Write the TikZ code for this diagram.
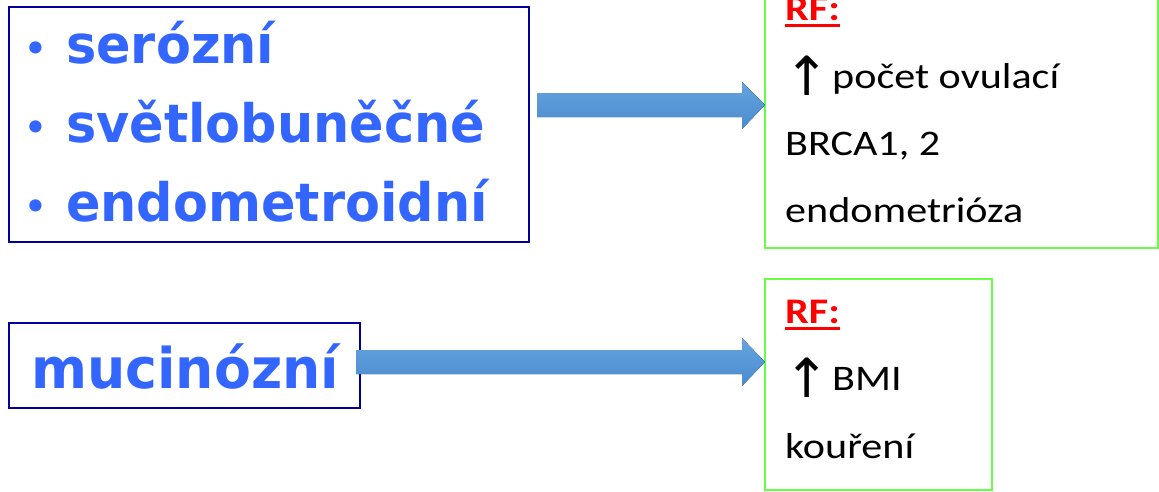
\documentclass[tikz,border=0pt]{standalone}
\usepackage{fontspec}
\setmainfont{Carlito}[FakeStretch=1.17]
\newfontfamily\verdb{DejaVuSans-Bold.ttf}[FakeStretch=0.96]
\newfontfamily\dvs{DejaVu Sans}
\usetikzlibrary{calc}
\definecolor{navybox}{HTML}{000099}
\definecolor{greenbox}{HTML}{66FF44}
\definecolor{typeblue}{HTML}{3366FF}
\definecolor{rfred}{HTML}{FF0000}
\definecolor{arrtop}{HTML}{66A3DE}
\definecolor{arrbot}{HTML}{4A8CD0}
\newcommand{\uparr}{\makebox[47pt][l]{\hspace{-1pt}\dvs\fontsize{54}{54}\selectfont\raisebox{-7pt}{↑}}}
\tikzset{
  typebox/.style={draw=navybox, line width=2pt, inner sep=0pt},
  rfbox/.style={draw=greenbox, line width=2pt, inner sep=0pt},
  typetext/.style={anchor=base west, inner sep=0pt, text=typeblue, font=\verdb\fontsize{53}{60}\selectfont},
  bullettext/.style={anchor=base, inner sep=0pt, text=typeblue, font=\dvs\fontsize{42}{50}\selectfont},
  rftext/.style={anchor=base west, inner sep=0pt, text=black, font=\fontsize{36}{40}\selectfont},
  rfhead/.style={anchor=base west, inner sep=0pt, text=rfred, font=\bfseries\fontsize{36}{40}\selectfont},
  rfline/.style={draw=rfred, line width=3pt},
  fatarrow/.style={top color=arrtop, bottom color=arrbot, draw=none},
}
\begin{document}
\begin{tikzpicture}[x=1pt,y=-1pt]
\useasboundingbox (0,0) rectangle (1159,491);
% boxes
\draw[typebox] (9,7) rectangle (529,242);
\coordinate (b1e) at (529,105);
\draw[rfbox] (765,-10) rectangle (1158,248);
\coordinate (b2w) at (765,105);
\draw[typebox] (9,323) rectangle (360,408);
\coordinate (b3e) at (360,362);
\draw[rfbox] (765,279) rectangle (992,490);
\coordinate (b4w) at (765,362);
% top-left text
\node[bullettext] (d1) at (36,63) {•};
\node[typetext] (t1) at (66,63) {serózní};
\node[bullettext] (d2) at (36,142) {•};
\node[typetext] (t2) at (66,142) {světlobuněčné};
\node[bullettext] (d3) at (36,221) {•};
\node[typetext] (t3) at (66,221) {endometroidní};
\node[typetext, font=\verdb\fontsize{56}{60}\selectfont] (t4) at (31,388) {mucinózní};
% right top text
\node[rfhead] (rf1) at (785,20) {RF:};
\draw[rfline] ($(rf1.base west)+(0,5.5)$) -- ($(rf1.base east)+(0,5.5)$);
\node[rftext] (r1) at (785,88) {\uparr počet ovulací};
\node[rftext] (r2) at (785,155) {BRCA1, 2};
\node[rftext] (r3) at (785,222) {endometrióza};
% right bottom text
\node[rfhead] (rf2) at (785,323) {RF:};
\draw[rfline] ($(rf2.base west)+(0,5.5)$) -- ($(rf2.base east)+(0,5.5)$);
\node[rftext] (r4) at (785,390) {\uparr BMI};
\node[rftext] (r5) at (785,458) {kouření};
% arrows
\fill[fatarrow] ($(b1e)+(8,-12)$) -- ($(b2w)+(-23,-12)$) -- ($(b2w)+(-23,-23)$) -- (b2w) -- ($(b2w)+(-23,24)$) -- ($(b2w)+(-23,12)$) -- ($(b1e)+(8,12)$) -- cycle;
\fill[fatarrow] ($(b3e)+(-4,-12)$) -- ($(b4w)+(-23,-12)$) -- ($(b4w)+(-23,-24)$) -- (b4w) -- ($(b4w)+(-23,24)$) -- ($(b4w)+(-23,12)$) -- ($(b3e)+(-4,12)$) -- cycle;
\end{tikzpicture}
\end{document}
